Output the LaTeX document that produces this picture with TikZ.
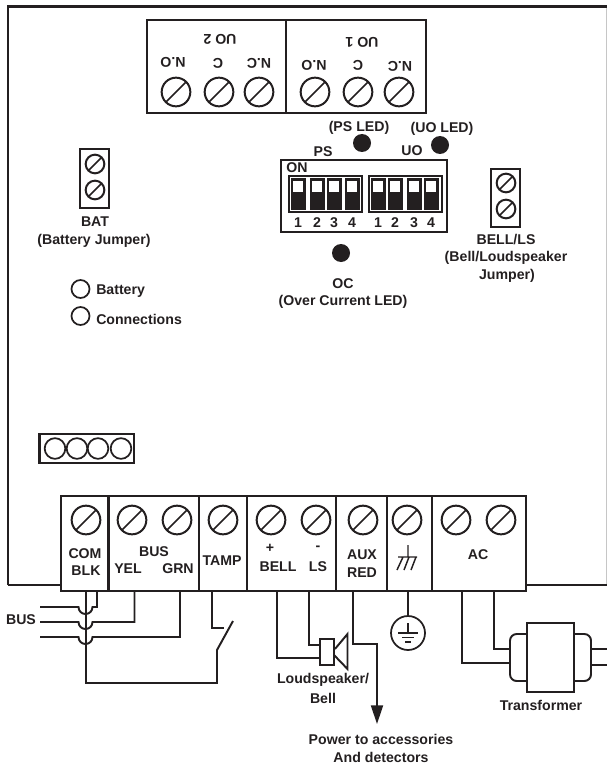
\documentclass[tikz,border=0pt]{standalone}
\usepackage{fontspec}
\setmainfont{Liberation Sans}
\usetikzlibrary{arrows.meta}
\definecolor{myblack}{RGB}{35,31,32}
\tikzset{
  txt/.style={font=\bfseries\fontsize{10.6}{12}\selectfont, text=myblack, inner sep=0pt},
  box/.style={draw=myblack, line width=1.7pt},
  wire/.style={draw=myblack, line width=1.45pt},
  screw/.style={circle, draw=myblack, line width=1.5pt, inner sep=0pt, minimum size=21.5pt,
    path picture={\draw[myblack, line width=1.3pt] (path picture bounding box.south west) -- (path picture bounding box.north east);}},
  smallscrew/.style={screw, minimum size=14pt},
  led/.style={circle, fill=myblack, inner sep=0pt, minimum size=13.5pt},
  ring/.style={circle, draw=myblack, line width=1.3pt, inner sep=0pt, minimum size=#1}
}

\begin{document}
\begin{tikzpicture}[x=0.75pt, y=-0.75pt]
  \useasboundingbox (0,0) rectangle (607,763);
  % housing
  \draw[myblack, line width=1.6pt] (8,585) -- (8,6.5) -- (607,6.5);
  \draw[gray!45, line width=0.8pt] (606.3,8) -- (606.3,585);
  \draw[myblack, line width=1.2pt] (8,585) -- (61,585);
  \draw[myblack, line width=1.2pt] (526,585) -- (607,585);

  % upper terminals
  \draw[box] (147,20) rectangle (426,113);
  \draw[box] (286,20) -- (286,113);
  \foreach \name/\x in {notwo/176, ctwo/219, nctwo/259, noone/315, cone/358, ncone/399}
    \node[screw] (\name) at (\x,92) {};
  \node[txt, rotate=180] (uotwo) at (220,39) {UO 2};
  \node[txt, rotate=180] (uoone) at (362,42) {UO 1};
  \node[txt, rotate=180] (notwotxt) at (173,62) {N.O};
  \node[txt, rotate=180] (ctwotxt) at (218,63) {C};
  \node[txt, rotate=180] (nctwotxt) at (259,63) {N.C};
  \node[txt, rotate=180] (noonetxt) at (314,65) {N.O};
  \node[txt, rotate=180] (conetxt) at (358,65) {C};
  \node[txt, rotate=180] (nconetxt) at (400,66) {N.C};

  % dip switches
  \node[txt] (psledtxt) at (359,128) {(PS LED)};
  \node[txt] (uoledtxt) at (442,129) {(UO LED)};
  \node[led] (psled) at (362,143) {};
  \node[led] (uoled) at (440,145) {};
  \node[txt] (pstxt) at (323,152) {PS};
  \node[txt] (uotxt) at (412,151) {UO};
  \draw[box] (281,160) rectangle (447,232);
  \node[txt] (ontxt) at (297,168) {ON};
  \draw[myblack, line width=1.2pt] (289,176) rectangle (362,212);
  \draw[myblack, line width=1.2pt] (369,176) rectangle (442,212);
  \foreach \x/\n in {298/1, 317/2, 334/3, 352/4, 378/1, 395/2, 414/3, 431/4} {
    \fill[myblack] (\x-7.5,178) rectangle (\x+7.5,209.5);
    \fill[white] (\x-5,181) rectangle (\x+5,192);
    \node[txt] (num\x) at (\x,223) {\n};
  }
  \node[led] (ocled) at (341,253) {};
  \node[txt] (octxt) at (343,284) {OC};
  \node[txt] (oclong) at (343,302) {(Over Current LED)};

  % jumpers
  \draw[box] (491,169) rectangle (520,227);
  \node[smallscrew] (bellone) at (506,183) {};
  \node[smallscrew] (belltwo) at (506,209) {};
  \node[txt] (belltxt) at (506,240) {BELL/LS};
  \node[txt] (belllong) at (506,258) {(Bell/Loudspeaker};
  \node[txt] (belljump) at (507,276) {Jumper)};
  \draw[box] (80,149) rectangle (109,208);
  \node[smallscrew] (batone) at (95,164) {};
  \node[smallscrew] (battwo) at (95,190) {};
  \node[txt] (battxt) at (95,222) {BAT};
  \node[txt] (batlong) at (94,241) {(Battery Jumper)};
  \node[ring=13.5pt] (batled) at (80.5,289) {};
  \node[ring=13.5pt] (conled) at (80.5,316) {};
  \node[txt, anchor=west] (batledtxt) at (96,291.5) {Battery};
  \node[txt, anchor=west] (conledtxt) at (96,319) {Connections};

  % small header
  \draw[box] (39.5,434) rectangle (134,463);
  \foreach \x in {55,77,98,121}
    \node[ring=15.5pt] (pin\x) at (\x,448.5) {};

  % lower terminals
  \draw[box] (61,496) rectangle (526,591);
  \foreach \x in {108.5,199,247,336,387,432}
    \draw[box] (\x,496) -- (\x,591);
  \foreach \name/\x in {comscrew/86, yelscrew/132, grnscrew/177, tampscrew/223, plusscrew/271, lsscrew/316, auxscrew/363, gndscrew/407, acone/456, actwo/501}
    \node[screw] (\name) at (\x,520) {};
  \node[txt] (comtxt) at (85,554) {COM};
  \node[txt] (blktxt) at (86,571) {BLK};
  \node[txt] (bustxt) at (154,552) {BUS};
  \node[txt] (yeltxt) at (128,569) {YEL};
  \node[txt] (grntxt) at (178,569) {GRN};
  \node[txt] (tamptxt) at (222,561) {TAMP};
  \node[txt] (plustxt) at (270,548) {+};
  \node[txt] (belltermtxt) at (278,567) {BELL};
  \node[txt] (minustxt) at (318,548) {-};
  \node[txt] (lstxt) at (318,567) {LS};
  \node[txt] (auxtxt) at (362,555) {AUX};
  \node[txt] (redtxt) at (362,573) {RED};
  \node[txt] (actxt) at (478,555) {AC};
  % earth mark
  \draw[myblack, line width=1.1pt] (408,545) -- (408,557) (398,557) -- (417,557)
    (403,557) -- (397,570) (409,557) -- (404,570) (416,557) -- (411,570);

  % ports on the block
  \coordinate (comport) at (86,591);
  \coordinate (blkport) at (97,591);
  \coordinate (yelport) at (134.5,591);
  \coordinate (grnport) at (180,591);
  \coordinate (tampport) at (212,591);
  \coordinate (bellport) at (277,591);
  \coordinate (lsport) at (309,591);
  \coordinate (auxport) at (353,591);
  \coordinate (gndport) at (408,591);
  \coordinate (aconeport) at (462,591);
  \coordinate (actwoport) at (494,591);

  % bus wires
  \node[txt] (buslabel) at (21,620) {BUS};
  \coordinate (busone) at (40,607);
  \coordinate (bustwo) at (40,622);
  \coordinate (busthree) at (40,637);
  \draw[wire] (comport) -- (86,683) -- (217,683) -- (217,650) -- (233,621);
  \draw[wire] (tampport) |- (224,628);
  \draw[wire] (busone) -- (78.5,607) arc[start angle=180, end angle=0, radius=7] -- (97,607) -- (blkport);
  \draw[wire] (bustwo) -- (78.5,622) arc[start angle=180, end angle=0, radius=7] -- (134.5,622) -- (yelport);
  \draw[wire] (busthree) -- (78.5,637) arc[start angle=180, end angle=0, radius=7] -- (180,637) -- (grnport);

  % speaker
  \node[draw=myblack, line width=1.45pt, inner sep=0pt, minimum width=10.5pt, minimum height=19.5pt] (spkbox) at (327,652) {};
  \draw[wire, line join=miter] (spkbox.east) ++(0,-3) -- (347.5,634) -- (347.5,669) -- (334,655);
  \coordinate (spkup) at (320,645);
  \coordinate (spkdown) at (320,658);
  \draw[wire] (lsport) |- (spkup);
  \draw[wire] (bellport) |- (spkdown);
  \node[txt] (spktxt) at (323,680) {Loudspeaker/};
  \node[txt] (spkbell) at (323,698) {Bell};

  % aux arrow
  \coordinate (auxend) at (377,724);
  \draw[wire, -{Triangle[length=14pt, width=9pt]}] (auxport) -- (353,644) -- (377,644) -- (auxend);
  \node[txt] (powtxt) at (381,739) {Power to accessories};
  \node[txt] (dettxt) at (381,757) {And detectors};

  % ground
  \node[ring=25.5pt] (gnd) at (408,633) {};
  \draw[wire] (gndport) -- (gnd.north);
  \draw[myblack, line width=1.1pt] (408,623) -- (408,633) (398,633) -- (418,633) (402,637.5) -- (414,637.5) (405,642) -- (411,642);

  % transformer
  \node[draw=myblack, line width=1.5pt, inner sep=0pt, minimum width=35pt, minimum height=52pt] (core) at (550.5,657.5) {};
  \draw[wire, rounded corners=5pt] (core.west |- 0,634) -- (510,634) -- (510,681) -- (core.west |- 0,681);
  \draw[wire, rounded corners=5pt] (core.east |- 0,634) -- (591,634) -- (591,681) -- (core.east |- 0,681);
  \coordinate (priup) at (510,649);
  \coordinate (pridown) at (510,663);
  \coordinate (secup) at (591,649);
  \coordinate (secdown) at (591,665);
  \draw[wire] (actwoport) |- (priup);
  \draw[wire] (aconeport) |- (pridown);
  \draw[wire] (secup) -- (607,649);
  \draw[wire] (secdown) -- (607,665);
  \node[txt] (transtxt) at (541,705) {Transformer};
\end{tikzpicture}
\end{document}
